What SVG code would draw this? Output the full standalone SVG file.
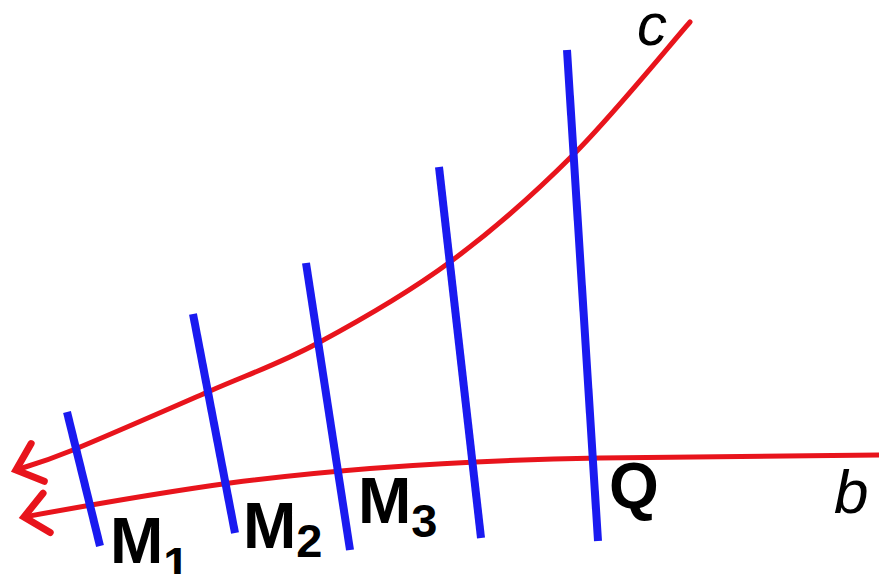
<svg xmlns="http://www.w3.org/2000/svg" width="879" height="574" viewBox="0 0 879 574">
<style>
.blue{stroke:#1a1af0;stroke-width:8;fill:none}
.red{stroke:#e8141c;stroke-width:5;fill:none;stroke-linecap:round}
.lbl{font-family:"Liberation Sans",Arial,sans-serif;font-weight:bold;fill:#000}
.it{font-family:"Liberation Sans",Arial,sans-serif;font-style:italic;fill:#000}
</style>
<defs>
<marker id="arr" markerUnits="userSpaceOnUse" viewBox="-30 -26 36 52" refX="0" refY="0" markerWidth="36" markerHeight="52" orient="auto" overflow="visible">
<path d="M-23,-20 L0,0 L-23,20" fill="none" stroke="#e8141c" stroke-width="7" stroke-linecap="round" stroke-linejoin="miter"/>
</marker>
</defs>
<rect width="879" height="574" fill="#fff"/>
<g id="connectors">
<path id="curve-c" class="red" marker-end="url(#arr)" d="M690,22 C670.5,44.2 613,115 573,155 C533,195 492.5,230.7 450,262 C407.5,293.3 358,321.5 318,343 C278,364.5 250.8,373.2 210,391 C169.2,408.8 105.3,436.8 73,450 C40.7,463.2 25.5,466.7 16,470"/>
<path id="curve-b" class="red" marker-end="url(#arr)" d="M879,455 L600,458 C480,460 360,466 230,483 C150,494 90,505 24,517"/>
</g>
<g id="line1"><line class="blue" x1="67" y1="412" x2="100" y2="546"/></g>
<g id="line2"><line class="blue" x1="193" y1="314" x2="235" y2="533"/></g>
<g id="line3"><line class="blue" x1="306" y1="263" x2="350" y2="550"/></g>
<g id="line4"><line class="blue" x1="439" y1="167" x2="481" y2="538"/></g>
<g id="line5"><line class="blue" x1="567" y1="50" x2="598" y2="541"/></g>
<g id="labels">
<text class="lbl" x="110" y="563" font-size="64">M<tspan font-size="47" dy="17">1</tspan></text>
<text class="lbl" x="243" y="548" font-size="64">M<tspan font-size="47" dy="9">2</tspan></text>
<text class="lbl" x="358" y="523" font-size="64">M<tspan font-size="47" dy="14">3</tspan></text>
<text class="lbl" x="609" y="508" font-size="64">Q</text>
<text class="it" x="637" y="45" font-size="60">c</text>
<text class="it" x="834" y="513" font-size="62">b</text>
</g>
</svg>
